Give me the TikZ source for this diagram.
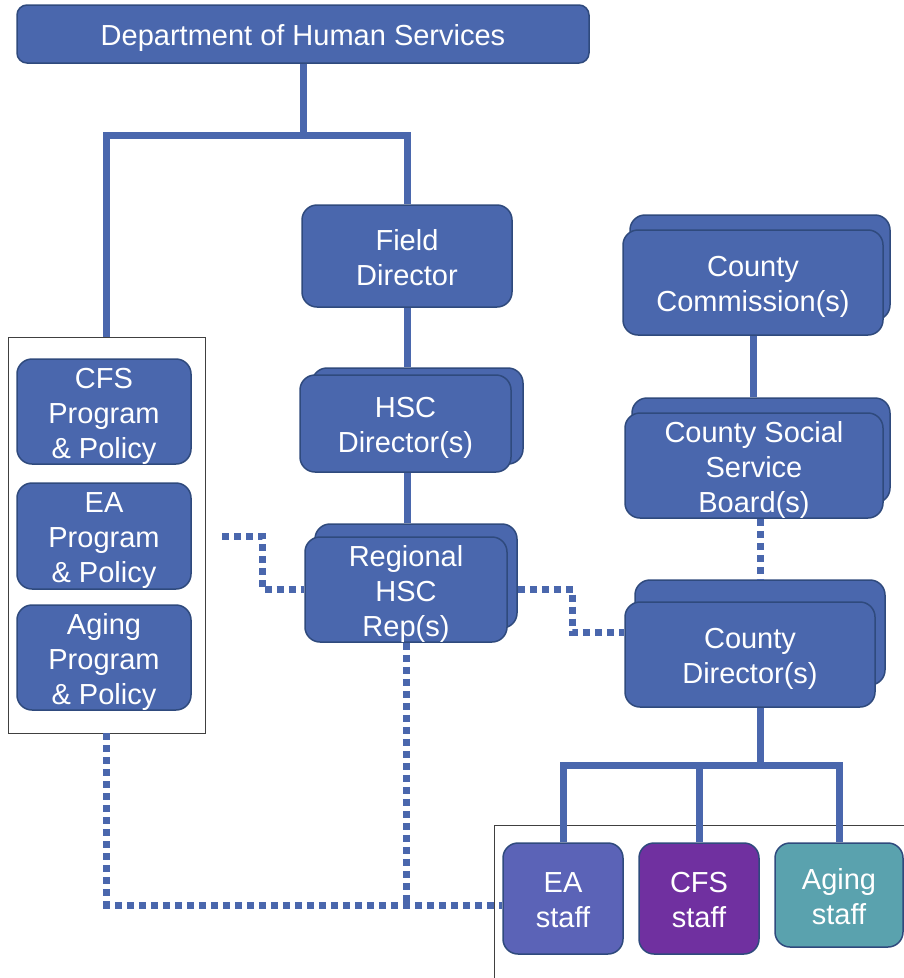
\documentclass[tikz,border=0pt]{standalone}
\usepackage{fontspec}
\setmainfont{Liberation Sans}
\usepackage{tikz}
\usetikzlibrary{calc}
\definecolor{dhsblue}{RGB}{74,103,173}
\definecolor{dhsedge}{RGB}{47,74,125}
\definecolor{eastaff}{RGB}{91,99,183}
\definecolor{cfsstaff}{RGB}{112,48,160}
\definecolor{agingstaff}{RGB}{90,162,174}
\newcommand{\boxlines}[1]{\raisebox{0pt}[29pt][\dimexpr\depth-4.5pt\relax]{\begin{tabular}[t]{@{}c@{}}#1\end{tabular}}}
\tikzset{
  unit/.style={draw=dhsedge,line width=1.5pt,fill=dhsblue,rounded corners=15pt,text=white,inner sep=0pt,font=\fontsize{29}{35}\selectfont},
  solidlink/.style={draw=dhsblue,line width=7pt},
  dotlink/.style={draw=dhsblue,line width=7pt,dash pattern=on 7pt off 5pt},
  frame/.style={draw=black!75,line width=0.8pt}
}

\begin{document}
\begin{tikzpicture}[x=1pt,y=-1pt]
                \useasboundingbox (0,0) rectangle (904,978);
                % Frames
                \node[frame,minimum width=197pt,minimum height=396pt,inner sep=0pt] (policy) at (106.5,535) {};
                \draw[frame] (494,978)--(494,825)--(904,825);
                % State office
                \node[unit,rounded corners=10pt,minimum width=572pt,minimum height=58pt] (dhs) at (303,34) {\boxlines{Department of Human Services}};
                \node[unit,minimum width=174pt,minimum height=105pt] (cfs) at (104,411.5) {\boxlines{CFS\\Program\\\& Policy}};
                \node[unit,minimum width=174pt,minimum height=106pt] (ea) at (104,536) {\boxlines{EA\\Program\\\& Policy}};
                \node[unit,minimum width=174pt,minimum height=105pt] (aging) at (104,657.5) {\boxlines{Aging\\Program\\\& Policy}};
                % Field line
                \node[unit,minimum width=210pt,minimum height=102pt] (field) at (407,256) {\boxlines{Field\\Director}};
                \node[unit,minimum width=211pt,minimum height=96pt] (hscb) at (417.5,416) {};
                \node[unit,minimum width=211pt,minimum height=97pt] (hsc) at (405.5,423.5) {\boxlines{HSC\\Director(s)}};
                \node[unit,minimum width=202pt,minimum height=104pt] (regb) at (416,576) {};
                \node[unit,minimum width=202pt,minimum height=105pt] (reg) at (406,589.5) {\boxlines{Regional\\HSC\\Rep(s)}};
                % County line
                \node[unit,minimum width=260pt,minimum height=105pt] (commb) at (760,267.5) {};
                \node[unit,minimum width=260pt,minimum height=105pt] (comm) at (753,282.5) {\boxlines{County\\Commission(s)}};
                \node[unit,minimum width=258pt,minimum height=105pt] (boardb) at (761,450.5) {};
                \node[unit,minimum width=258pt,minimum height=105pt] (board) at (754,465.5) {\boxlines{County Social\\Service\\Board(s)}};
                \node[unit,minimum width=250pt,minimum height=105pt] (cdirb) at (760,632.5) {};
                \node[unit,minimum width=250pt,minimum height=105pt] (cdir) at (750,654.5) {\boxlines{County\\Director(s)}};
                % Staff
                \node[unit,fill=eastaff,minimum width=120pt,minimum height=111pt] (eas) at (563,898.5) {\boxlines{EA\\staff}};
                \node[unit,fill=cfsstaff,minimum width=120pt,minimum height=111pt] (cfss) at (699,898.5) {\boxlines{CFS\\staff}};
                \node[unit,fill=agingstaff,minimum width=128pt,minimum height=104pt] (agings) at (839,895) {\boxlines{Aging\\staff}};
                % Solid lines
                \coordinate (split) at (303,135);
                \coordinate (bus) at (760,765);
                \draw[solidlink] (dhs.south)--(split);
                \draw[solidlink] (policy.north)|-(split)-|(field.north);
                \draw[solidlink] (field.south)--(field.south|-hscb.north);
                \draw[solidlink] (field.south|-hsc.south)--(field.south|-regb.north);
                \draw[solidlink] (comm.south)--(comm.south|-boardb.north);
                \draw[solidlink] (cdirb.north|-cdir.south)--(bus);
                \draw[solidlink] (eas.north)|-(bus)-|(agings.north);
                \draw[solidlink] (cfss.north)--(cfss.north|-bus);
                % Dotted lines
                \coordinate (eaout) at (222,536);
                \coordinate (stafflink) at ([yshift=-6.5pt]eas.west);
                \draw[dotlink] (eaout)--++(40,0)|-(reg.west);
                \draw[dotlink] (regb.east|-reg.west)--++(55,0)|-(cdir.west|-cdirb.west);
                \draw[dotlink] (cdirb.north|-board.south)--(cdirb.north);
                \draw[dotlink] (reg.south)--(reg.south|-stafflink);
                \draw[dotlink] (policy.south)|-(stafflink);
\end{tikzpicture}
\end{document}
